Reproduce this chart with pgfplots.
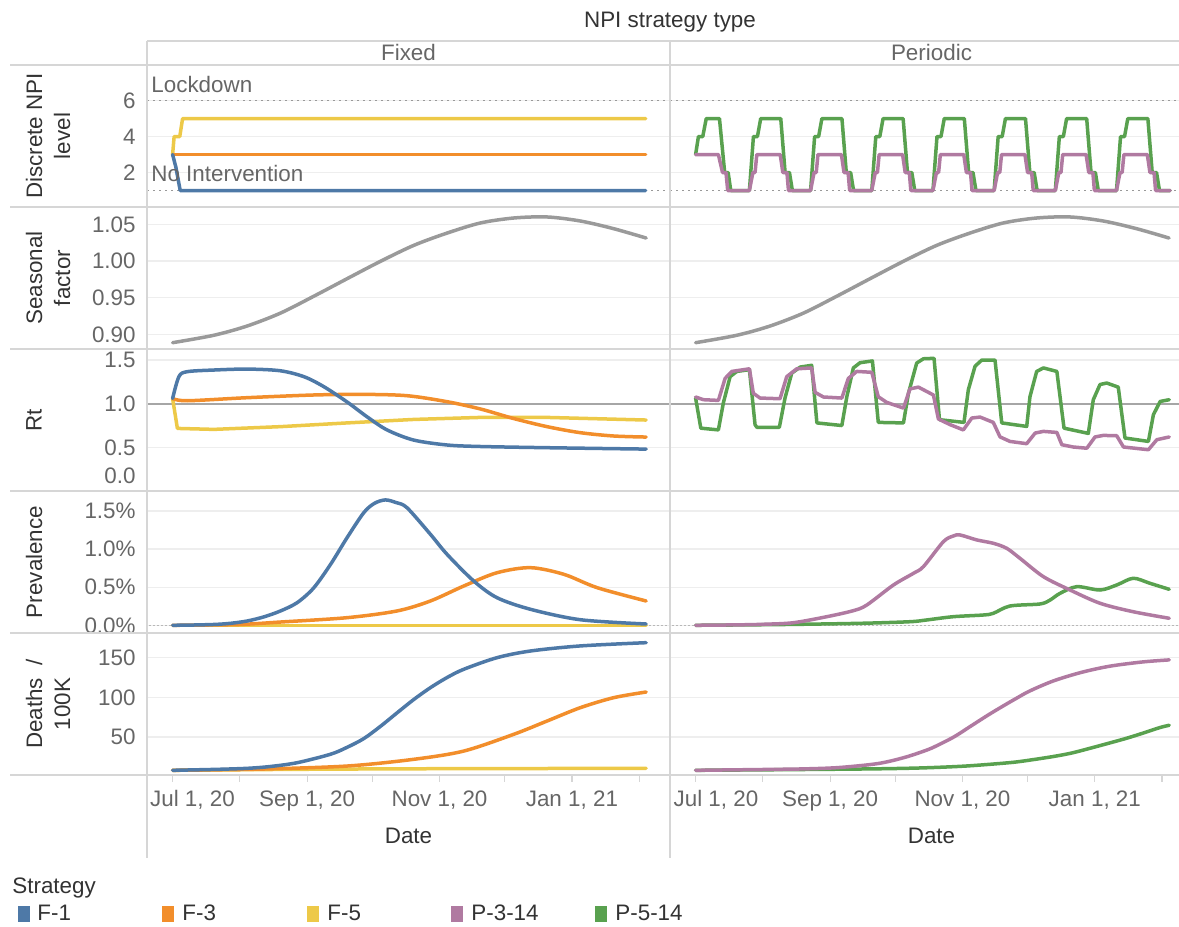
\documentclass[border=0pt]{standalone}
\usepackage{fontspec}
\setmainfont{Liberation Sans}
\usepackage{pgfplots}
\pgfplotsset{compat=1.18}

\newcommand\fs{\fontsize{11.2}{13.4}\selectfont}

\definecolor{cF1}{HTML}{4E79A7}
\definecolor{cF3}{HTML}{F28E2B}
\definecolor{cF5}{HTML}{EDC948}
\definecolor{cP3}{HTML}{B07AA1}
\definecolor{cP5}{HTML}{59A14F}
\definecolor{seas}{HTML}{9A9A9A}
\definecolor{sepc}{HTML}{D6D6D6}
\definecolor{gridc}{HTML}{EEEEEE}
\definecolor{tickc}{HTML}{666666}
\definecolor{titc}{HTML}{333333}
\definecolor{dotc}{HTML}{999999}
\definecolor{refc}{HTML}{A6A6A6}

\pgfplotsset{
  panel/.style={
    scale only axis, height=71pt,
    axis line style={draw=none},
    xtick=\empty, ytick style={draw=none},
    ymajorgrids, major grid style={draw=gridc, line width=0.6pt},
    tick label style={font=\fs, text=tickc},
    yticklabel style={anchor=east, inner sep=0pt, xshift=-5.5pt},
    every axis plot/.append style={line width=1.75pt, line join=round, line cap=round},
  },
  c1/.style={panel, width=261.5pt, xmin=-11.8, xmax=229.2},
  c2/.style={panel, width=254.5pt, xmin=-11.8, xmax=222.8, yticklabel=\empty},
  r1/.style={ymin=0.083, ymax=7.98, ytick={2,4,6}},
  r2/.style={ymin=0.8801, ymax=1.0736, ytick={0.90,0.95,1.00,1.05}},
  r3/.style={ymin=0, ymax=1.627, ytick={0.5,1.0,1.5}},
  r4/.style={ymin=-0.101, ymax=1.762, ytick={0,0.5,1.0,1.5}},
  r5/.style={ymin=2.1, ymax=181.1, ytick={50,100,150},
    xtick={0,31,62,92,123,153,184,215}, xtick pos=left, xtick align=outside,
    major tick length=3.5pt, xtick style={draw=sepc, line width=0.6pt},
    xticklabel style={anchor=north, inner sep=0pt, yshift=-4pt}},
  refdot/.style={draw=dotc, line width=0.9pt, dash pattern=on 0.9pt off 2.1pt, line cap=butt},
  zerodot/.style={draw=dotc!70, line width=0.5pt, dash pattern=on 1pt off 1pt, line cap=butt},
  refrt/.style={draw=refc, line width=1.2pt, line cap=butt},
}

\begin{document}
\begin{tikzpicture}
\useasboundingbox (0,0) rectangle (589.5pt,463.5pt);

% ---------- row 1: discrete NPI level
\begin{axis}[c1, r1, at={(73.5pt,360pt)}, anchor=south west, yticklabels={2,4,6}]
\addplot[refdot] coordinates {(-20,6) (240,6)};
\addplot[refdot] coordinates {(-20,1) (240,1)};
\addplot[cF5] coordinates {(0,3) (0.7,4) (3.3,4) (4.6,5) (218,5)};
\addplot[cF3] coordinates {(0,3) (218,3)};
\addplot[cF1] coordinates {(0,3) (1.5,2.3) (3.5,1) (218,1)};
\end{axis}
\begin{axis}[c2, r1, at={(335pt,360pt)}, anchor=south west]
\addplot[refdot] coordinates {(-20,6) (240,6)};
\addplot[refdot] coordinates {(-20,1) (240,1)};
\addplot[cP5] coordinates {
 (0,3) (1.3,4) (3.3,4) (4.9,5) (11.0,5) (13.4,2) (15.0,2) (16.2,1)
 (24.8,1) (26.65,4) (28.5,4) (30.0,5) (39.25,5) (41.25,2) (43.25,2) (44.6,1)
 (53.0,1) (54.85,4) (56.7,4) (58.2,5) (67.45,5) (69.45,2) (71.45,2) (72.8,1)
 (81.2,1) (83.05,4) (84.9,4) (86.4,5) (95.65,5) (97.65,2) (99.65,2) (101.0,1)
 (109.4,1) (111.25,4) (113.1,4) (114.6,5) (123.85,5) (125.85,2) (127.85,2) (129.2,1)
 (137.6,1) (139.45,4) (141.3,4) (142.8,5) (152.05,5) (154.05,2) (156.05,2) (157.4,1)
 (165.8,1) (167.65,4) (169.5,4) (171.0,5) (180.25,5) (182.25,2) (184.25,2) (185.6,1)
 (194.0,1) (195.85,4) (197.7,4) (199.2,5) (208.45,5) (210.45,2) (212.45,2) (213.8,1)
 (218.7,1)};
\addplot[cP3] coordinates {
 (0,3) (10.5,3) (12.4,2) (14.0,2) (14.8,1)
 (24.8,1) (26.4,2) (27.4,2) (28.2,3) (39.0,3) (40.2,2) (42.1,2) (42.8,1)
 (53.0,1) (54.6,2) (55.6,2) (56.4,3) (67.2,3) (68.4,2) (70.3,2) (71.0,1)
 (81.2,1) (82.8,2) (83.8,2) (84.6,3) (95.4,3) (96.6,2) (98.5,2) (99.2,1)
 (109.4,1) (111.0,2) (112.0,2) (112.8,3) (123.6,3) (124.8,2) (126.7,2) (127.4,1)
 (137.6,1) (139.2,2) (140.2,2) (141.0,3) (151.8,3) (153.0,2) (154.9,2) (155.6,1)
 (165.8,1) (167.4,2) (168.4,2) (169.2,3) (180.0,3) (181.2,2) (183.1,2) (183.8,1)
 (194.0,1) (195.6,2) (196.6,2) (197.4,3) (208.2,3) (209.4,2) (211.3,2) (212.0,1)
 (218.7,1)};
\end{axis}

% ---------- row 2: seasonal factor
\begin{axis}[c1, r2, at={(73.5pt,289pt)}, anchor=south west,
  yticklabels={0.90,0.95,1.00,1.05}]
\addplot[seas, smooth] coordinates {(0,0.8887) (19,0.8988) (34.3,0.9114) (49.7,0.929)
 (65,0.9519) (80.4,0.9759) (95.8,0.9996) (111.2,1.0214) (126.5,1.0381) (141.8,1.0518)
 (157.2,1.0586) (172.6,1.0600) (187.9,1.0545) (203.3,1.0440) (218.2,1.0313)};
\end{axis}
\begin{axis}[c2, r2, at={(335pt,289pt)}, anchor=south west]
\addplot[seas, smooth] coordinates {(0,0.8887) (19,0.8988) (34.3,0.9114) (49.7,0.929)
 (65,0.9519) (80.4,0.9759) (95.8,0.9996) (111.2,1.0214) (126.5,1.0381) (141.8,1.0518)
 (157.2,1.0586) (172.6,1.0600) (187.9,1.0545) (203.3,1.0440) (218.2,1.0313)};
\end{axis}

% ---------- row 3: Rt
\begin{axis}[c1, r3, at={(73.5pt,218pt)}, anchor=south west,
  yticklabels={0.5,1.0,1.5},
  extra y ticks={0}, extra y tick labels={0.0},
  extra y tick style={yticklabel style={yshift=7.5pt}}]
\addplot[refrt] coordinates {(-20,1) (240,1)};
\addplot[cF5] coordinates {(0,1.06) (2.2,0.717) (19,0.706) (49.5,0.737) (80.4,0.78)
 (111.2,0.82) (141.8,0.843) (172.6,0.843) (218.2,0.813)};
\addplot[cF3, smooth] coordinates {(0,1.06) (6.7,1.034) (34.3,1.069) (65,1.10) (88,1.107)
 (108,1.092) (126.5,1.023) (141.8,0.94) (157.2,0.83) (172.6,0.737) (187.9,0.668)
 (203.3,0.63) (218.2,0.618)};
\addplot[cF1, smooth] coordinates {(0,1.06) (2.9,1.31) (6.7,1.367) (19,1.386) (34.3,1.397)
 (49.5,1.378) (60.5,1.31) (69.7,1.195) (80.4,1.02) (89.6,0.85) (98.8,0.70) (111,0.584)
 (126.5,0.527) (141.5,0.51) (172.6,0.496) (218.2,0.48)};
\end{axis}
\begin{axis}[c2, r3, at={(335pt,218pt)}, anchor=south west]
\addplot[refrt] coordinates {(-20,1) (240,1)};
\addplot[cP5] coordinates {(0,1.065) (2.4,0.72) (10.5,0.70) (12.8,1.01) (15.9,1.31)
 (19.0,1.37) (24.8,1.39) (27.4,0.76) (28.2,0.73) (38.6,0.73) (41.2,1.065) (44.3,1.35)
 (48.2,1.42) (53.5,1.44) (55.9,0.78) (67.4,0.75) (69.7,1.08) (72.7,1.41) (75.8,1.47)
 (81.5,1.49) (84.2,0.786) (95.8,0.78) (98.1,1.12) (101.9,1.466) (105.0,1.515)
 (109.9,1.52) (112.4,0.817) (123.7,0.786) (125.7,1.16) (128.8,1.43) (131.9,1.50)
 (138.0,1.50) (141.1,0.78) (152.6,0.74) (154.1,1.08) (157.2,1.37) (160.3,1.41)
 (166.5,1.37) (169.8,0.72) (181.0,0.66) (183.3,1.046) (186.4,1.22) (189.5,1.237)
 (194.8,1.19) (197.9,0.607) (208.7,0.568) (211.0,0.874) (214.1,1.026) (218.3,1.046)};
\addplot[cP3] coordinates {(0,1.077) (3.6,1.046) (10.5,1.038) (13.6,1.29) (16.7,1.37)
 (24.8,1.40) (26.6,1.12) (29.7,1.065) (38.9,1.057) (42.0,1.31) (46.6,1.40) (53.5,1.41)
 (55.1,1.13) (58.9,1.077) (67.4,1.065) (70.4,1.29) (74.3,1.37) (81.2,1.36) (84.2,1.08)
 (88.1,1.015) (95.8,0.95) (98.8,1.17) (102.7,1.19) (109.6,1.10) (111.9,0.825)
 (117.3,0.76) (123.4,0.70) (127.3,0.836) (131.1,0.847) (137.2,0.786) (140.3,0.62)
 (144.9,0.568) (152.6,0.542) (156.5,0.664) (160.3,0.683) (166.5,0.671) (168.8,0.53)
 (174.1,0.504) (180.3,0.49) (184.1,0.619) (187.9,0.637) (194.1,0.633) (197.2,0.504)
 (208.7,0.473) (212.6,0.588) (218.3,0.619)};
\end{axis}

% ---------- row 4: prevalence (%)
\begin{axis}[c1, r4, at={(73.5pt,147pt)}, anchor=south west,
  yticklabels={0.0\%,0.5\%,1.0\%,1.5\%}]
\addplot[zerodot] coordinates {(-20,0) (240,0)};
\addplot[cF5] coordinates {(0,0) (218.2,0)};
\addplot[cF3, smooth] coordinates {(0,0) (30,0.01) (49.7,0.043) (80.4,0.10) (103.4,0.188)
 (118.8,0.319) (134.2,0.516) (149.5,0.69) (164.9,0.756) (180.3,0.669) (195.6,0.494)
 (218.2,0.319)};
\addplot[cF1, smooth] coordinates {(0,0) (10,0.004) (20,0.012) (27,0.027) (34.3,0.056)
 (42,0.11) (49.7,0.188) (57.4,0.297) (65,0.49) (72.8,0.80) (80.4,1.15) (88.1,1.478)
 (93,1.60) (98,1.645) (103,1.61) (108,1.543) (118.8,1.194) (126.5,0.93)
 (138.8,0.58) (149.5,0.362) (164.9,0.21) (187.9,0.073) (218.2,0.017)};
\end{axis}
\begin{axis}[c2, r4, at={(335pt,147pt)}, anchor=south west]
\addplot[zerodot] coordinates {(-20,0) (240,0)};
\addplot[cP5, smooth] coordinates {(0,0) (40,0.01) (75.8,0.026) (98.8,0.047) (106.5,0.07)
 (118.8,0.113) (132.6,0.135) (137.2,0.157) (144.9,0.253) (158.8,0.28) (163.4,0.332)
 (168.0,0.42) (175.7,0.507) (186.4,0.463) (194.1,0.529) (201.7,0.617) (209.4,0.551)
 (218.3,0.472)};
\addplot[cP3, smooth] coordinates {(0,0) (20,0.006) (32,0.014) (45.1,0.034) (60.5,0.113)
 (72.7,0.192) (78.9,0.266) (91.2,0.529) (100.4,0.682) (105.0,0.77) (114.2,1.097)
 (118.8,1.172) (121.9,1.185) (129.6,1.12) (137.2,1.076) (143.4,1.01) (149.5,0.879)
 (160.3,0.638) (172.6,0.463) (186.4,0.289) (201.7,0.178) (218.3,0.092)};
\end{axis}

% ---------- row 5: deaths per 100K
\begin{axis}[c1, r5, at={(73.5pt,76pt)}, anchor=south west,
  yticklabels={50,100,150},
  xticklabels={{\makebox[0pt][l]{\hspace*{-11.25pt}Jul 1, 20}},{},{Sep 1, 20},{},{Nov 1, 20},{},{Jan 1, 21},{}}]
\addplot[cF5, smooth] coordinates {(0,8) (60,9.3) (120,10.0) (218.2,10.5)};
\addplot[cF3, smooth] coordinates {(0,8) (40,9.5) (80.4,13.4) (111.2,21.9) (134.2,32.3)
 (157.2,53.4) (172.6,70.2) (187.9,87) (203.3,99.6) (218.2,106.7)};
\addplot[cF1, smooth] coordinates {(0,8) (20,9.2) (34.3,10.5) (45,12.8) (57.4,17.6)
 (72.7,28.2) (80.4,37) (88.1,48) (95.8,63.5) (103.5,80.6) (111,97) (118.8,112.2)
 (126.5,125) (134.2,135.4) (149.5,150) (164.9,158.4) (187.9,164.8) (218.2,168.9)};
\end{axis}
\begin{axis}[c2, r5, at={(335pt,76pt)}, anchor=south west,
  xticklabels={{\makebox[0pt][l]{\hspace*{-11pt}Jul 1, 20}},{},{Sep 1, 20},{},{Nov 1, 20},{},{Jan 1, 21},{}}]
\addplot[cP5, smooth] coordinates {(0,8) (40,8.8) (81,9.8) (104,11) (124,13.3) (142,17)
 (150,19.3) (164,25) (173,29.6) (181,35.2) (191,42.6) (199,48.7) (207,55.6) (214,61.9)
 (218.3,64.8)};
\addplot[cP3, smooth] coordinates {(0,8) (30,9.0) (50,9.8) (66,11.5) (84,16.5) (96,24)
 (105,32) (110,37.5) (119,50) (127,64) (135,78) (142,89.5) (148,99) (154,108)
 (165,120.8) (178,131.6) (191,139.3) (206,144.6) (218.3,147.2)};
\end{axis}

% ---------- frame, headers, legend (pixel coordinates, y downwards)
\begin{scope}[x=0.5pt, y=-0.5pt, yshift=463.5pt]
  \foreach \yy in {65,207,349,491,633,775}
    \draw[sepc, line width=0.75pt] (10,\yy) -- (1179,\yy);
  \draw[sepc, line width=0.75pt] (147,41) -- (1179,41);
  \draw[sepc, line width=0.75pt] (147,41) -- (147,858);
  \draw[sepc, line width=0.75pt] (670,41) -- (670,858);

  \node[font=\fs, text=titc] at (670,22) {NPI strategy type};
  \node[font=\fs, text=tickc] at (408.5,53) {Fixed};
  \node[font=\fs, text=tickc] at (931.5,53) {Periodic};

  \node[font=\fs, text=tickc, anchor=base west, inner sep=0pt] at (151,93) {Lockdown};
  \node[font=\fs, text=tickc, anchor=base west, inner sep=0pt] at (151,182) {No Intervention};

  \begin{scope}[every node/.style={rotate=90, align=center, text=titc,
      font={\fontsize{11.2}{14}\selectfont}}]
    \node at (48,136) {Discrete NPI\\level};
    \node at (48,278) {Seasonal\\factor};
    \node at (34,420) {Rt};
    \node at (34,562) {Prevalence};
    \node at (48,704) {Deaths\ \ /\\100K};
  \end{scope}

  \node[font=\fs, text=titc] at (408.5,836) {Date};
  \node[font=\fs, text=titc] at (931.5,836) {Date};

  \node[font=\fs, text=titc, anchor=base west, inner sep=0pt] at (12,894) {Strategy};
  \fill[cF1] (18,906) rectangle (30,922);
  \fill[cF3] (162,906) rectangle (174,922);
  \fill[cF5] (307,906) rectangle (319,922);
  \fill[cP3] (451,906) rectangle (463,922);
  \fill[cP5] (595,906) rectangle (607,922);
  \node[font=\fs, text=titc, anchor=base west, inner sep=0pt] at (37,921) {F-1};
  \node[font=\fs, text=titc, anchor=base west, inner sep=0pt] at (182,921) {F-3};
  \node[font=\fs, text=titc, anchor=base west, inner sep=0pt] at (327,921) {F-5};
  \node[font=\fs, text=titc, anchor=base west, inner sep=0pt] at (471,921) {P-3-14};
  \node[font=\fs, text=titc, anchor=base west, inner sep=0pt] at (615,921) {P-5-14};
\end{scope}
\end{tikzpicture}
\end{document}
